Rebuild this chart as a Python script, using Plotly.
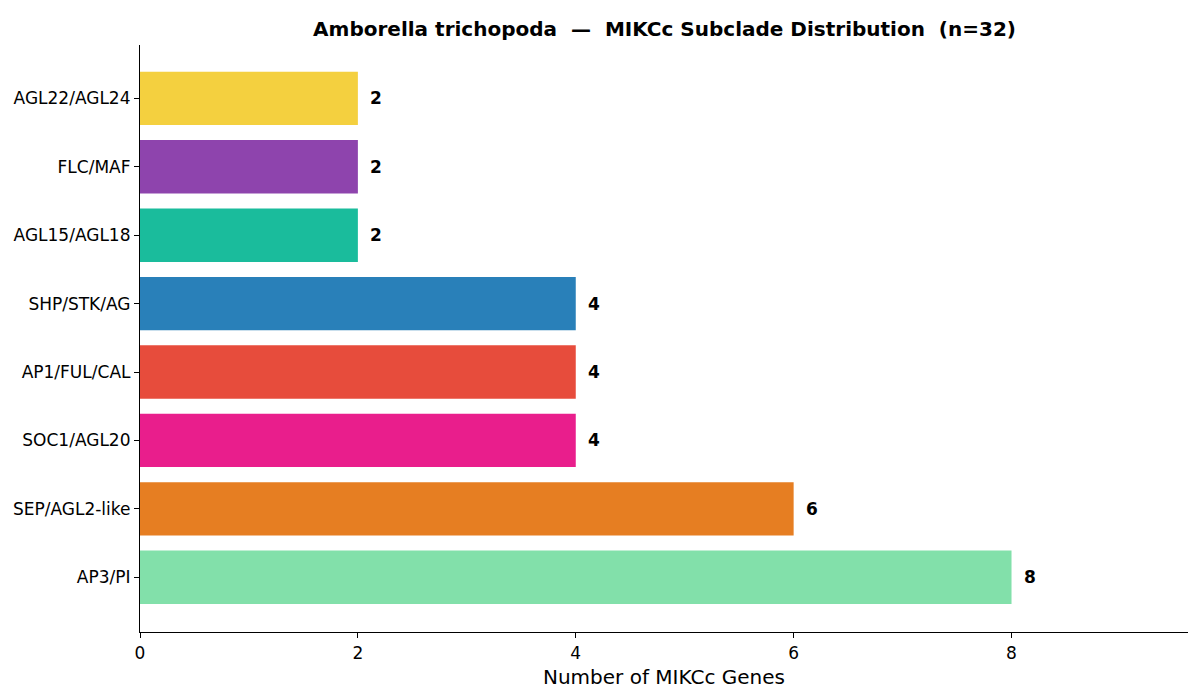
import plotly.graph_objects as go

# Data (bottom to top)
subclades = ['AP3/PI', 'SEP/AGL2-like', 'SOC1/AGL20', 'AP1/FUL/CAL',
             'SHP/STK/AG', 'AGL15/AGL18', 'FLC/MAF', 'AGL22/AGL24']
gene_counts = [8, 6, 4, 4, 4, 2, 2, 2]
bar_colors = ['#82E0AA', '#E67E22', '#E91E8C', '#E74C3C',
              '#2980B9', '#1ABC9C', '#8E44AD', '#F4D03F']

font_family = 'DejaVu Sans'

fig = go.Figure()
fig.add_trace(go.Bar(
    x=gene_counts,
    y=subclades,
    orientation='h',
    width=0.78,
    marker=dict(color=bar_colors, line=dict(width=0)),
    showlegend=False,
))

# value labels next to bars
for name, val in zip(subclades, gene_counts):
    fig.add_annotation(
        x=val, y=name, text=f'<b>{val}</b>',
        xanchor='left', yanchor='middle', xshift=10,
        showarrow=False,
        font=dict(family=font_family, size=17, color='black'),
    )

fig.update_layout(
    title=dict(text='<b>Amborella trichopoda  —  MIKCc Subclade Distribution  (n=32)</b>',
               font=dict(family=font_family, size=20, color='black'),
               x=0.5508, xanchor='center', y=0.97, yanchor='middle'),
    xaxis=dict(
        title=dict(text='Number of MIKCc Genes', font=dict(family=font_family, size=20, color='black'),
                   standoff=8),
        range=[0, 9.62],
        tickmode='array', tickvals=[0, 2, 4, 6, 8],
        ticks='outside', ticklen=5, tickcolor='black',
        showline=True, linecolor='black', linewidth=1.2,
        showgrid=False, zeroline=False, automargin=False,
        tickfont=dict(family=font_family, size=17, color='black'),
    ),
    yaxis=dict(
        range=[-0.8, 7.78],
        ticks='outside', ticklen=5, tickcolor='black',
        showline=True, linecolor='black', linewidth=1.2,
        showgrid=False, zeroline=False, automargin=False,
        tickfont=dict(family=font_family, size=17, color='black'),
    ),
    width=1192,
    height=690,
    margin=dict(l=132, r=12, t=37, b=66),
    plot_bgcolor='white',
    paper_bgcolor='white',
)

fig.write_html('out.html')
